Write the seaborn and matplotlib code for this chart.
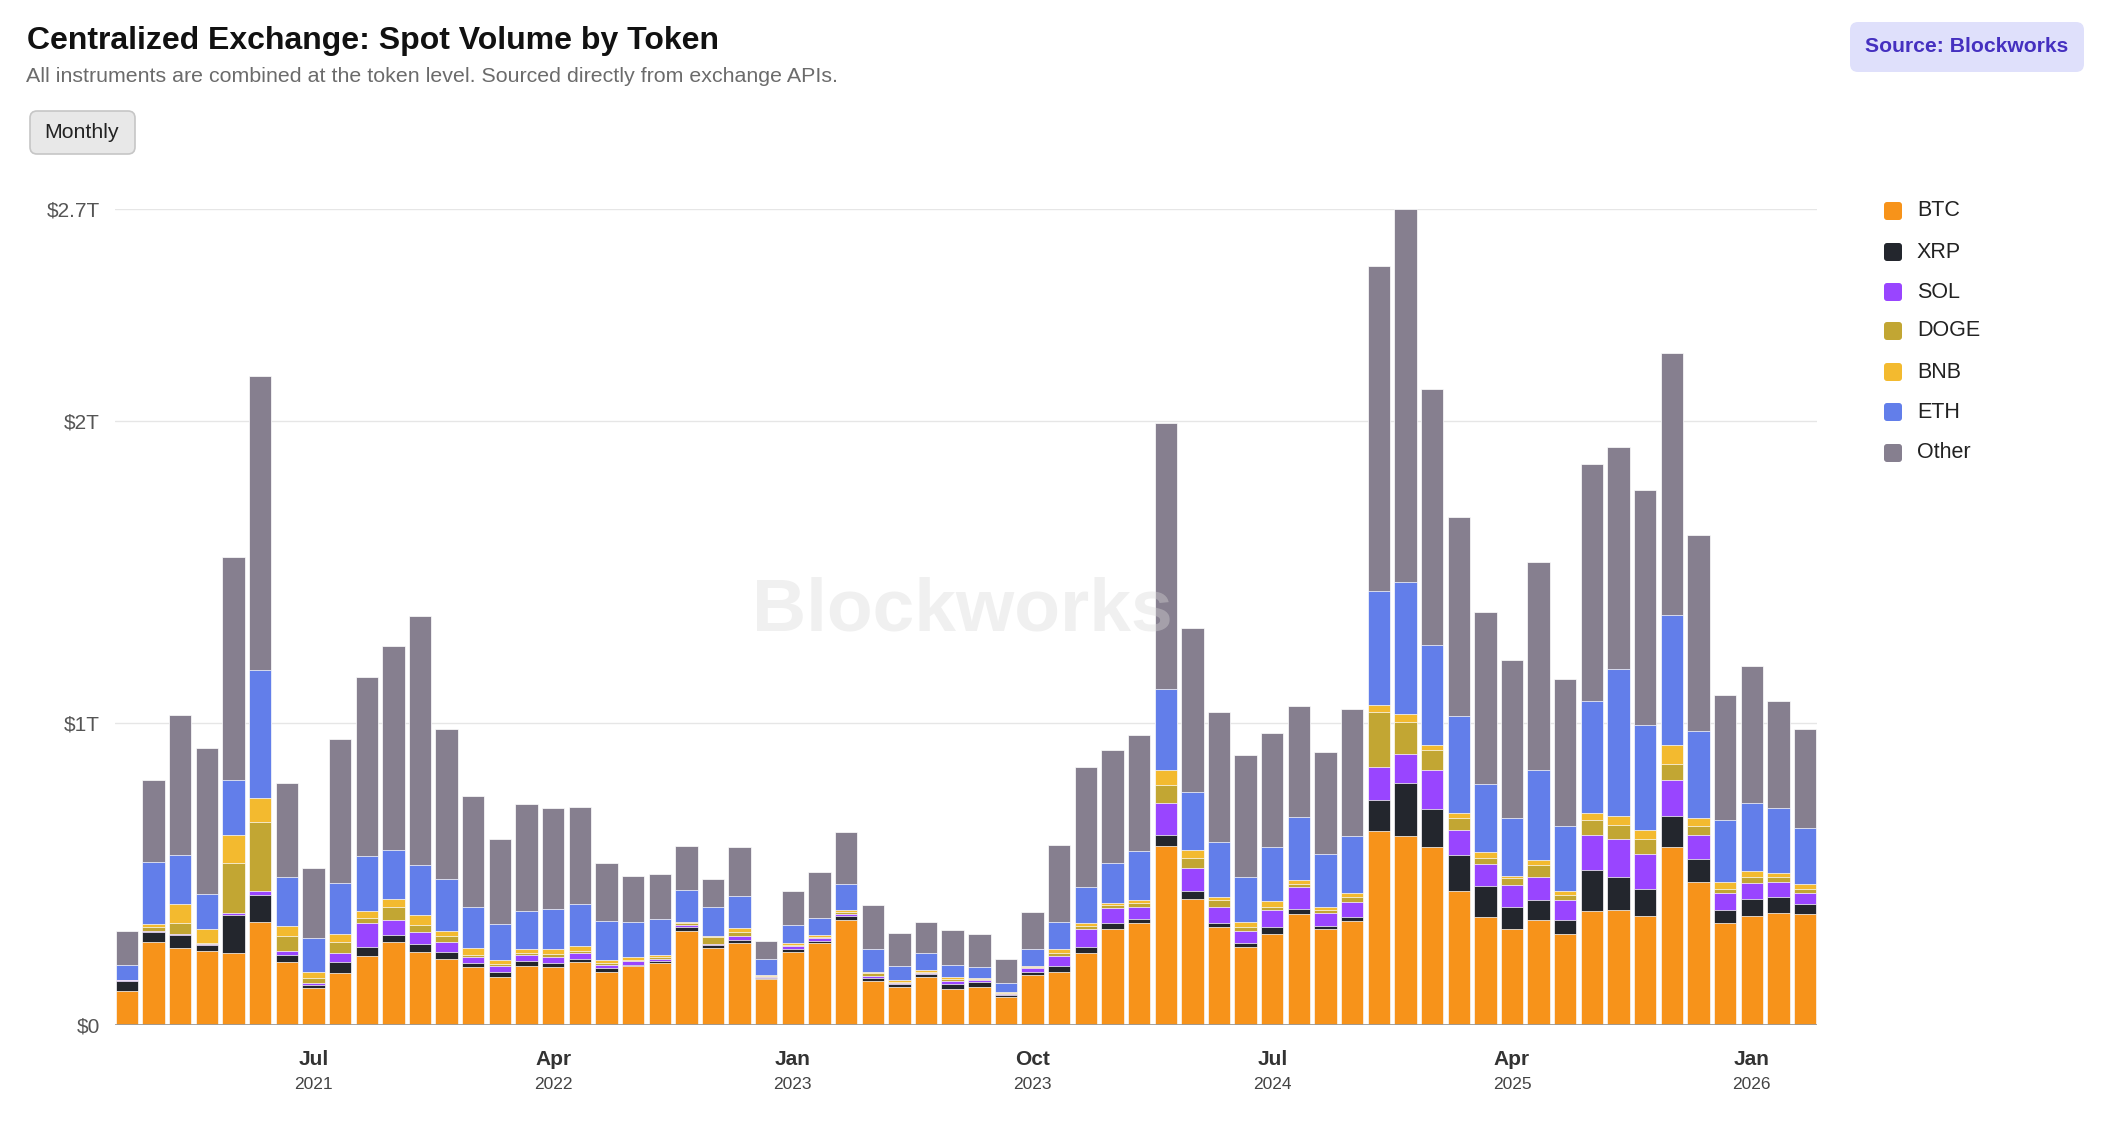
import numpy as np
import pandas as pd
import matplotlib.pyplot as plt
import seaborn as sns
from matplotlib.patches import FancyBboxPatch

# monthly buckets, Dec 2020 -> Mar 2026
months = pd.date_range('2020-12-01', '2026-03-01', freq='MS').strftime('%Y-%m').tolist()

# spot volume per token, in $T
btc = [0.112, 0.276, 0.256, 0.246, 0.239, 0.340, 0.207, 0.121, 0.172, 0.228,
       0.274, 0.243, 0.220, 0.192, 0.159, 0.196, 0.192, 0.209, 0.177, 0.194,
       0.205, 0.312, 0.254, 0.271, 0.151, 0.243, 0.272, 0.347, 0.144, 0.125,
       0.159, 0.118, 0.127, 0.091, 0.166, 0.177, 0.239, 0.317, 0.336, 0.591,
       0.418, 0.325, 0.259, 0.302, 0.366, 0.317, 0.345, 0.642, 0.625, 0.590,
       0.442, 0.356, 0.317, 0.347, 0.302, 0.377, 0.379, 0.360, 0.588, 0.472,
       0.338, 0.362, 0.371, 0.368]
xrp = [0.034, 0.032, 0.042, 0.020, 0.125, 0.089, 0.026, 0.013, 0.035, 0.029,
       0.024, 0.024, 0.023, 0.013, 0.018, 0.017, 0.013, 0.011, 0.010, 0.006,
       0.006, 0.012, 0.011, 0.009, 0.006, 0.007, 0.006, 0.015, 0.013, 0.010,
       0.009, 0.019, 0.015, 0.008, 0.011, 0.019, 0.019, 0.019, 0.015, 0.038,
       0.026, 0.011, 0.013, 0.021, 0.018, 0.011, 0.013, 0.102, 0.175, 0.125,
       0.121, 0.105, 0.073, 0.065, 0.045, 0.136, 0.112, 0.090, 0.102, 0.078,
       0.044, 0.054, 0.054, 0.033]
sol = [0.002, 0.002, 0.002, 0.002, 0.007, 0.015, 0.011, 0.006, 0.030, 0.079,
       0.049, 0.041, 0.033, 0.019, 0.017, 0.018, 0.019, 0.019, 0.012, 0.012,
       0.008, 0.008, 0.004, 0.015, 0.003, 0.010, 0.009, 0.005, 0.006, 0.004,
       0.004, 0.010, 0.006, 0.004, 0.010, 0.032, 0.060, 0.052, 0.041, 0.104,
       0.075, 0.056, 0.040, 0.058, 0.071, 0.043, 0.049, 0.110, 0.096, 0.128,
       0.081, 0.071, 0.073, 0.079, 0.067, 0.116, 0.125, 0.117, 0.122, 0.079,
       0.056, 0.054, 0.049, 0.037]
doge = [0.001, 0.015, 0.036, 0.004, 0.166, 0.228, 0.051, 0.017, 0.039, 0.018,
        0.045, 0.022, 0.017, 0.009, 0.007, 0.008, 0.011, 0.006, 0.005, 0.004,
        0.006, 0.004, 0.022, 0.013, 0.003, 0.004, 0.005, 0.006, 0.008, 0.004,
        0.005, 0.006, 0.004, 0.002, 0.004, 0.010, 0.010, 0.008, 0.012, 0.060,
        0.035, 0.022, 0.011, 0.011, 0.011, 0.008, 0.018, 0.183, 0.108, 0.067,
        0.041, 0.022, 0.022, 0.037, 0.015, 0.050, 0.046, 0.049, 0.050, 0.028,
        0.013, 0.019, 0.015, 0.013]
bnb = [0.001, 0.008, 0.063, 0.044, 0.092, 0.078, 0.033, 0.017, 0.026, 0.023,
       0.024, 0.034, 0.019, 0.023, 0.014, 0.013, 0.017, 0.018, 0.011, 0.008,
       0.008, 0.004, 0.005, 0.012, 0.004, 0.007, 0.007, 0.008, 0.006, 0.006,
       0.006, 0.006, 0.005, 0.003, 0.005, 0.012, 0.008, 0.007, 0.010, 0.050,
       0.024, 0.011, 0.017, 0.017, 0.015, 0.013, 0.012, 0.023, 0.026, 0.017,
       0.015, 0.019, 0.009, 0.019, 0.015, 0.024, 0.028, 0.028, 0.065, 0.028,
       0.023, 0.022, 0.013, 0.014]
eth = [0.050, 0.205, 0.164, 0.116, 0.183, 0.425, 0.163, 0.113, 0.168, 0.183,
       0.162, 0.166, 0.171, 0.134, 0.119, 0.125, 0.132, 0.138, 0.130, 0.117,
       0.118, 0.108, 0.094, 0.107, 0.051, 0.061, 0.055, 0.087, 0.073, 0.047,
       0.054, 0.041, 0.035, 0.030, 0.054, 0.090, 0.119, 0.132, 0.161, 0.269,
       0.193, 0.181, 0.149, 0.179, 0.207, 0.175, 0.188, 0.377, 0.436, 0.332,
       0.322, 0.226, 0.191, 0.298, 0.216, 0.368, 0.487, 0.350, 0.429, 0.287,
       0.205, 0.224, 0.216, 0.188]
other = [0.110, 0.274, 0.463, 0.483, 0.735, 0.971, 0.309, 0.232, 0.476, 0.591,
         0.676, 0.823, 0.495, 0.367, 0.282, 0.354, 0.334, 0.319, 0.190, 0.152,
         0.149, 0.143, 0.093, 0.161, 0.060, 0.112, 0.152, 0.172, 0.146, 0.110,
         0.104, 0.115, 0.110, 0.082, 0.125, 0.255, 0.399, 0.375, 0.384, 0.879,
         0.544, 0.431, 0.405, 0.378, 0.368, 0.336, 0.420, 1.074, 1.234, 0.847,
         0.659, 0.567, 0.522, 0.687, 0.484, 0.785, 0.735, 0.777, 0.866, 0.649,
         0.414, 0.452, 0.353, 0.326]

tokens = ['BTC', 'XRP', 'SOL', 'DOGE', 'BNB', 'ETH', 'Other']
colors = ['#F7931A', '#23262D', '#9945FF', '#C2A633', '#F3BA2F', '#627EEA', '#867F8F']

tick_months = ['2021-07', '2022-04', '2023-01', '2023-10', '2024-07', '2025-04', '2026-01']
tick_names = ['Jul', 'Apr', 'Jan', 'Oct', 'Jul', 'Apr', 'Jan']
tick_years = ['2021', '2022', '2023', '2023', '2024', '2025', '2026']

y_ticks = [0, 1, 2, 2.7]
y_labels = [r'\$0', r'\$1T', r'\$2T', r'\$2.7T']

df = pd.DataFrame({'month': months, 'BTC': btc, 'XRP': xrp, 'SOL': sol, 'DOGE': doge,
                   'BNB': bnb, 'ETH': eth, 'Other': other})
cum = df[tokens].cumsum(axis=1)
cum['month'] = df['month']

sns.set_theme(style='white')
plt.rcParams['font.family'] = ['Liberation Sans', 'DejaVu Sans']

W, H = 2107, 1135
fig = plt.figure(figsize=(W / 100, H / 100), dpi=100)
fig.patch.set_facecolor('white')
ax = fig.add_axes([115 / W, 1 - 1025 / H, 1702 / W, 816 / H])

# stacked bars: draw cumulative totals from the top layer down
for tok, col in reversed(list(zip(tokens, colors))):
    sns.barplot(data=cum, x='month', y=tok, color=col, saturation=1, width=0.84,
                errorbar=None, edgecolor='white', linewidth=0.5, ax=ax, zorder=2)

ax.set_xlim(-0.45, len(months) - 0.55)
ax.set_ylim(0, 2.7)
ax.set_yticks(y_ticks)
ax.set_yticklabels(y_labels)
ax.tick_params(axis='y', length=0, pad=11, labelsize=15, labelcolor='#555555')
ax.yaxis.grid(True, color='#e6e6e6', linewidth=1)
ax.set_axisbelow(True)
ax.axhline(0, color='#9a9a9a', linewidth=2, zorder=3)
ax.set_xticks([])
ax.set_xlabel('')
ax.set_ylabel('')
sns.despine(ax=ax, left=True, bottom=True)

for m, name, yr in zip(tick_months, tick_names, tick_years):
    i = months.index(m)
    ax.annotate(name, xy=(i, 0), xycoords=('data', 'axes fraction'), xytext=(0, -25),
                textcoords='offset points', ha='center', va='center',
                fontsize=15, fontweight='bold', color='#333333')
    ax.annotate(yr, xy=(i, 0), xycoords=('data', 'axes fraction'), xytext=(0, -43),
                textcoords='offset points', ha='center', va='center',
                fontsize=12.5, color='#444444')

# watermark
ax.text(0.498, 0.507, 'Blockworks', transform=ax.transAxes, ha='center', va='center',
        fontsize=54, fontweight='bold', color='#d8d8d8', alpha=0.38, zorder=5)

# header
fig.text(27 / W, 1 - 41 / H, 'Centralized Exchange: Spot Volume by Token',
         fontsize=23, fontweight='bold', color='#111111', va='center')
fig.text(26 / W, 1 - 76 / H,
         'All instruments are combined at the token level. Sourced directly from exchange APIs.',
         fontsize=15.4, color='#6b6b6b', va='center')

inch = fig.dpi_scale_trans
fig.add_artist(FancyBboxPatch((30 / 100, (H - 154) / 100), 105 / 100, 43 / 100,
                              boxstyle='round,pad=0,rounding_size=0.07', transform=inch,
                              facecolor='#e8e8e8', edgecolor='#c6c6c6', linewidth=1.2))
fig.text(82 / W, 1 - 133 / H, 'Monthly', fontsize=15.3, color='#222222', ha='center', va='center')

fig.add_artist(FancyBboxPatch((1850 / 100, (H - 72) / 100), 234 / 100, 50 / 100,
                              boxstyle='round,pad=0,rounding_size=0.08', transform=inch,
                              facecolor='#dfe0fb', edgecolor='none'))
fig.text(1967 / W, 1 - 47 / H, 'Source: Blockworks', fontsize=15.2, fontweight='bold',
         color='#4530c0', ha='center', va='center')

# legend
leg_y = [211, 252, 292, 331, 372, 412, 453]
for tok, col, yc in zip(tokens, colors, leg_y):
    fig.add_artist(FancyBboxPatch((1884 / 100, (H - yc - 9) / 100), 18 / 100, 18 / 100,
                                  boxstyle='round,pad=0,rounding_size=0.03', transform=inch,
                                  facecolor=col, edgecolor='none'))
    fig.text(1917 / W, 1 - yc / H, tok, fontsize=15.5, color='#222222', va='center')

fig.savefig('out.png', dpi=100)
